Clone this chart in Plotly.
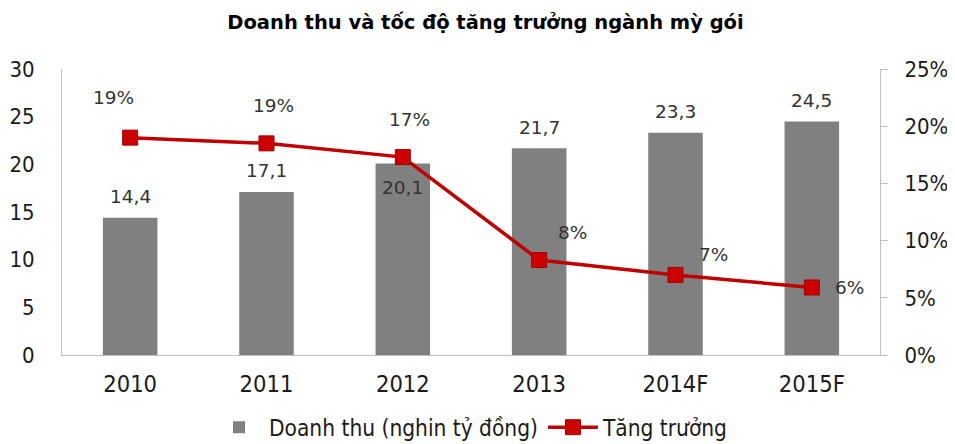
import plotly.graph_objects as go

categories = ["2010", "2011", "2012", "2013", "2014F", "2015F"]
revenue = [14.4, 17.1, 20.1, 21.7, 23.3, 24.5]
revenue_labels = ["14,4", "17,1", "20,1", "21,7", "23,3", "24,5"]
growth = [19.0, 18.5, 17.3, 8.3, 7.0, 5.9]
growth_labels = ["19%", "19%", "17%", "8%", "7%", "6%"]

FONT = "DejaVu Sans"
TICKFONT = "DejaVu Sans Condensed, DejaVu Sans"
TXT = "#333333"
TICK = "#1a1a1a"
xpos = list(range(len(categories)))

fig = go.Figure()
fig.add_trace(go.Bar(
    x=xpos, y=revenue, name="Doanh thu (nghin tỷ đồng)",
    marker=dict(color="#808080", line=dict(width=0)),
    width=0.4,
    xaxis="x", yaxis="y",
))
fig.add_trace(go.Scatter(
    x=xpos, y=growth, name="Tăng trưởng", mode="lines+markers",
    line=dict(color="#C00000", width=3.5),
    marker=dict(symbol="square", size=15, color="#CC0000", line=dict(color="#A00000", width=1)),
    xaxis="x", yaxis="y2",
))

# bar value labels
bar_shifts = [21, 21, -24, 21, 21, 21]
for i, v, t, s in zip(xpos, revenue, revenue_labels, bar_shifts):
    fig.add_annotation(x=i, y=v, xref="x", yref="y", text=t, showarrow=False,
                       yshift=s, font=dict(family=FONT, size=18.5, color=TXT))

# growth labels
g_dx = [-17, 7, 7, 33, 38, 38]
g_dy = [40, 38, 38, 28, 20, 0]
for i, v, t, dx, dy in zip(xpos, growth, growth_labels, g_dx, g_dy):
    fig.add_annotation(x=i, y=v, xref="x", yref="y2", text=t, showarrow=False,
                       xshift=dx, yshift=dy, font=dict(family=FONT, size=18.5, color=TXT))

fig.update_layout(
    width=955, height=444,
    margin=dict(l=54, r=83, t=61, b=97, autoexpand=False),
    paper_bgcolor="white", plot_bgcolor="white",
    title=dict(text="<b>Doanh thu và tốc độ tăng trưởng ngành mỳ gói</b>",
               x=0.5, xanchor="center", y=0.968, yanchor="middle",
               font=dict(family=FONT, size=19.5, color="black")),
    font=dict(family=FONT, color=TXT),
    showlegend=True,
    legend=dict(orientation="h", x=0.5, xanchor="center",
                yref="container", y=0.055, yanchor="middle",
                font=dict(family=TICKFONT, size=22.5, color=TICK),
                itemwidth=50, tracegroupgap=0),
    xaxis=dict(range=[-0.5, len(categories) - 0.5], tickvals=xpos, ticktext=categories,
               showline=True, linecolor="#BFBFBF", linewidth=1, ticks="",
               showgrid=False, zeroline=False, ticklabelstandoff=8, automargin=False,
               tickfont=dict(family=TICKFONT, size=23.5, color=TICK)),
    yaxis=dict(range=[0, 30], dtick=5, showgrid=False, zeroline=False,
               showline=True, linecolor="#BFBFBF", linewidth=1, automargin=False,
               ticks="", tickfont=dict(family=TICKFONT, size=22, color=TICK),
               ticklabelstandoff=22),
    yaxis2=dict(range=[0, 25], dtick=5, overlaying="y", side="right",
                showgrid=False, zeroline=False, ticksuffix="%", automargin=False,
                showline=True, linecolor="#BFBFBF", linewidth=1,
                ticks="outside", ticklen=7, tickcolor="#BFBFBF",
                ticklabelstandoff=12,
                tickfont=dict(family=TICKFONT, size=22, color=TICK)),
)

fig.write_html("out.html")
